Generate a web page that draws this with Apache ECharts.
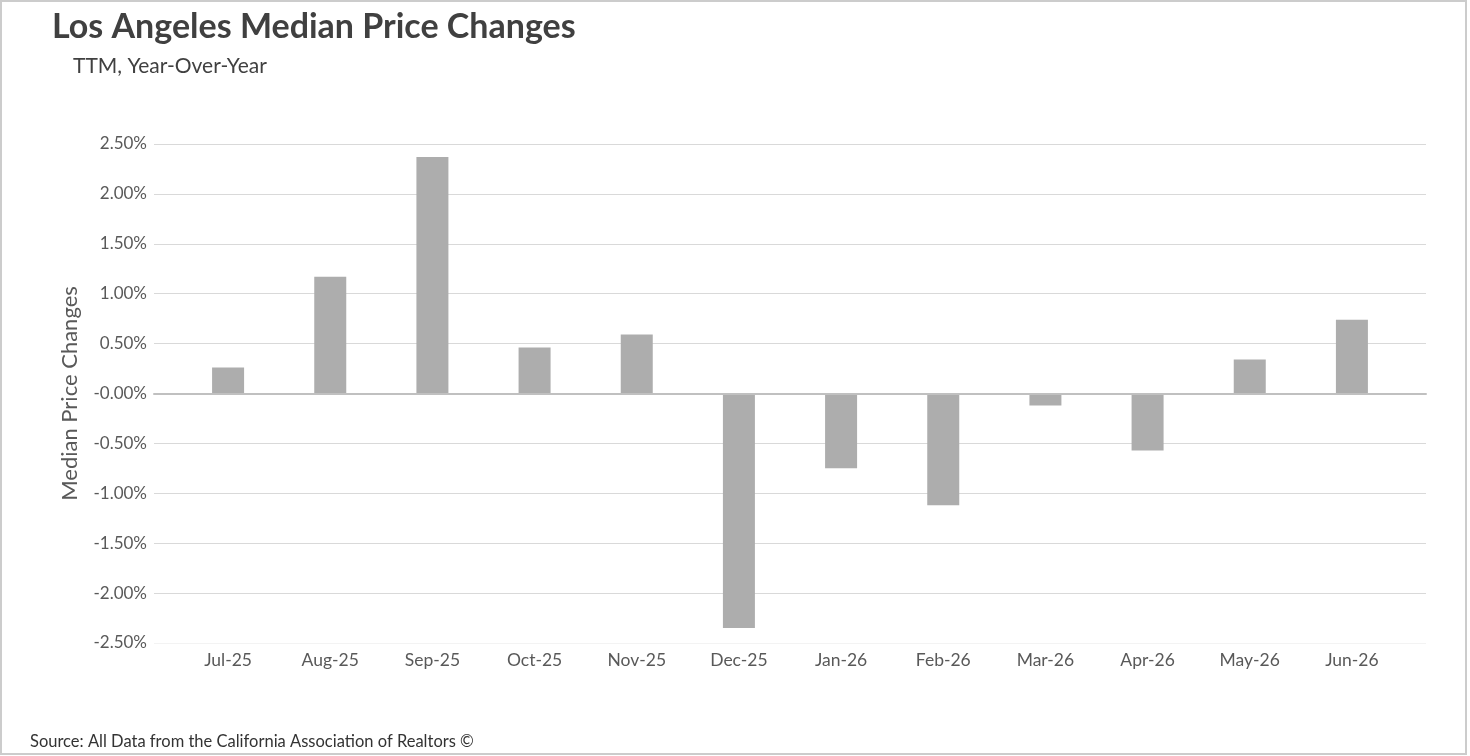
<!DOCTYPE html>
<html>
<head>
<meta charset="utf-8">
<script src="https://cdn.jsdelivr.net/npm/echarts@6/dist/echarts.min.js"></script>
<style>
  html, body { margin: 0; padding: 0; background: #fff; }
  #chart { width: 1470px; height: 756px; }
</style>
</head>
<body>
<div id="chart"></div>
<script>
var months = ['Jul-25', 'Aug-25', 'Sep-25', 'Oct-25', 'Nov-25', 'Dec-25',
              'Jan-26', 'Feb-26', 'Mar-26', 'Apr-26', 'May-26', 'Jun-26'];
// year-over-year change, in percent
var priceChange = [0.26, 1.17, 2.37, 0.46, 0.59, -2.35, -0.75, -1.12, -0.12, -0.57, 0.34, 0.74];
var yMin = -2.5;
var yMax = 2.5;
var yStep = 0.5;

var chart = echarts.init(document.getElementById('chart'));
var fontFamily = 'Lato, "Open Sans", sans-serif';

// bottom gridline is almost invisible in the original
var gridColors = ['#f3f3f3'];
for (var i = 0; i < 10; i++) gridColors.push('#d9d9d9');

var option = {
  textStyle: { fontFamily: fontFamily },
  title: [
    {
      text: 'Los Angeles Median Price Changes',
      left: 47, top: 5,
      textStyle: { fontSize: 34, fontWeight: 'bold', color: '#404040', fontFamily: fontFamily }
    },
    {
      text: 'TTM, Year-Over-Year',
      left: 68, top: 51,
      textStyle: { fontSize: 21, fontWeight: 'normal', color: '#404040', fontFamily: fontFamily }
    },
    {
      text: 'Source: All Data from the California Association of Realtors \u00a9',
      left: 25, top: 728,
      textStyle: { fontSize: 16.5, fontWeight: 'normal', color: '#333333', fontFamily: fontFamily }
    }
  ],
  graphic: [
    {
      type: 'rect',
      shape: { x: 1, y: 1, width: 1465, height: 753 },
      style: { fill: 'none', stroke: '#cccccc', lineWidth: 2 },
      silent: true
    }
  ],
  grid: [
    // gridlines + zero line span a bit wider than the categories
    { left: 154, right: 44, top: 144, bottom: 113 },
    { left: 177, right: 67, top: 144, bottom: 113 }
  ],
  xAxis: [
    {
      type: 'category', gridIndex: 0,
      data: months,
      axisLine: { show: true, onZero: true, lineStyle: { color: '#c0c0c0', width: 2 } },
      axisTick: { show: false },
      axisLabel: { show: false },
      z: 5
    },
    {
      type: 'category', gridIndex: 1,
      data: months,
      axisLine: { show: false, onZero: false },
      axisTick: { show: false },
      position: 'bottom',
      axisLabel: { show: true, color: '#595959', fontSize: 17.5, margin: 8, fontFamily: fontFamily }
    }
  ],
  yAxis: [
    {
      type: 'value', gridIndex: 0,
      min: yMin, max: yMax, interval: yStep,
      name: 'Median Price Changes',
      nameLocation: 'middle',
      nameGap: 73,
      nameTextStyle: { color: '#595959', fontSize: 22, fontFamily: fontFamily },
      axisLine: { show: false },
      axisTick: { show: false },
      axisLabel: {
        color: '#595959', fontSize: 17, margin: 7, fontFamily: fontFamily,
        padding: [3, 0, 0, 0],
        formatter: function (v) {
          if (Math.abs(v) < 1e-9) return '-0.00%';
          return v.toFixed(2) + '%';
        }
      },
      splitLine: { show: true, lineStyle: { color: gridColors, width: 1 } }
    },
    {
      type: 'value', gridIndex: 1,
      min: yMin, max: yMax, interval: yStep,
      axisLine: { show: false },
      axisTick: { show: false },
      axisLabel: { show: false },
      splitLine: { show: false }
    }
  ],
  series: [
    {
      name: 'Median Price Changes',
      type: 'bar',
      xAxisIndex: 1, yAxisIndex: 1,
      data: priceChange,
      barWidth: 32,
      itemStyle: { color: '#adadad' },
      z: 3
    }
  ]
};

chart.setOption(option);
</script>
</body>
</html>
